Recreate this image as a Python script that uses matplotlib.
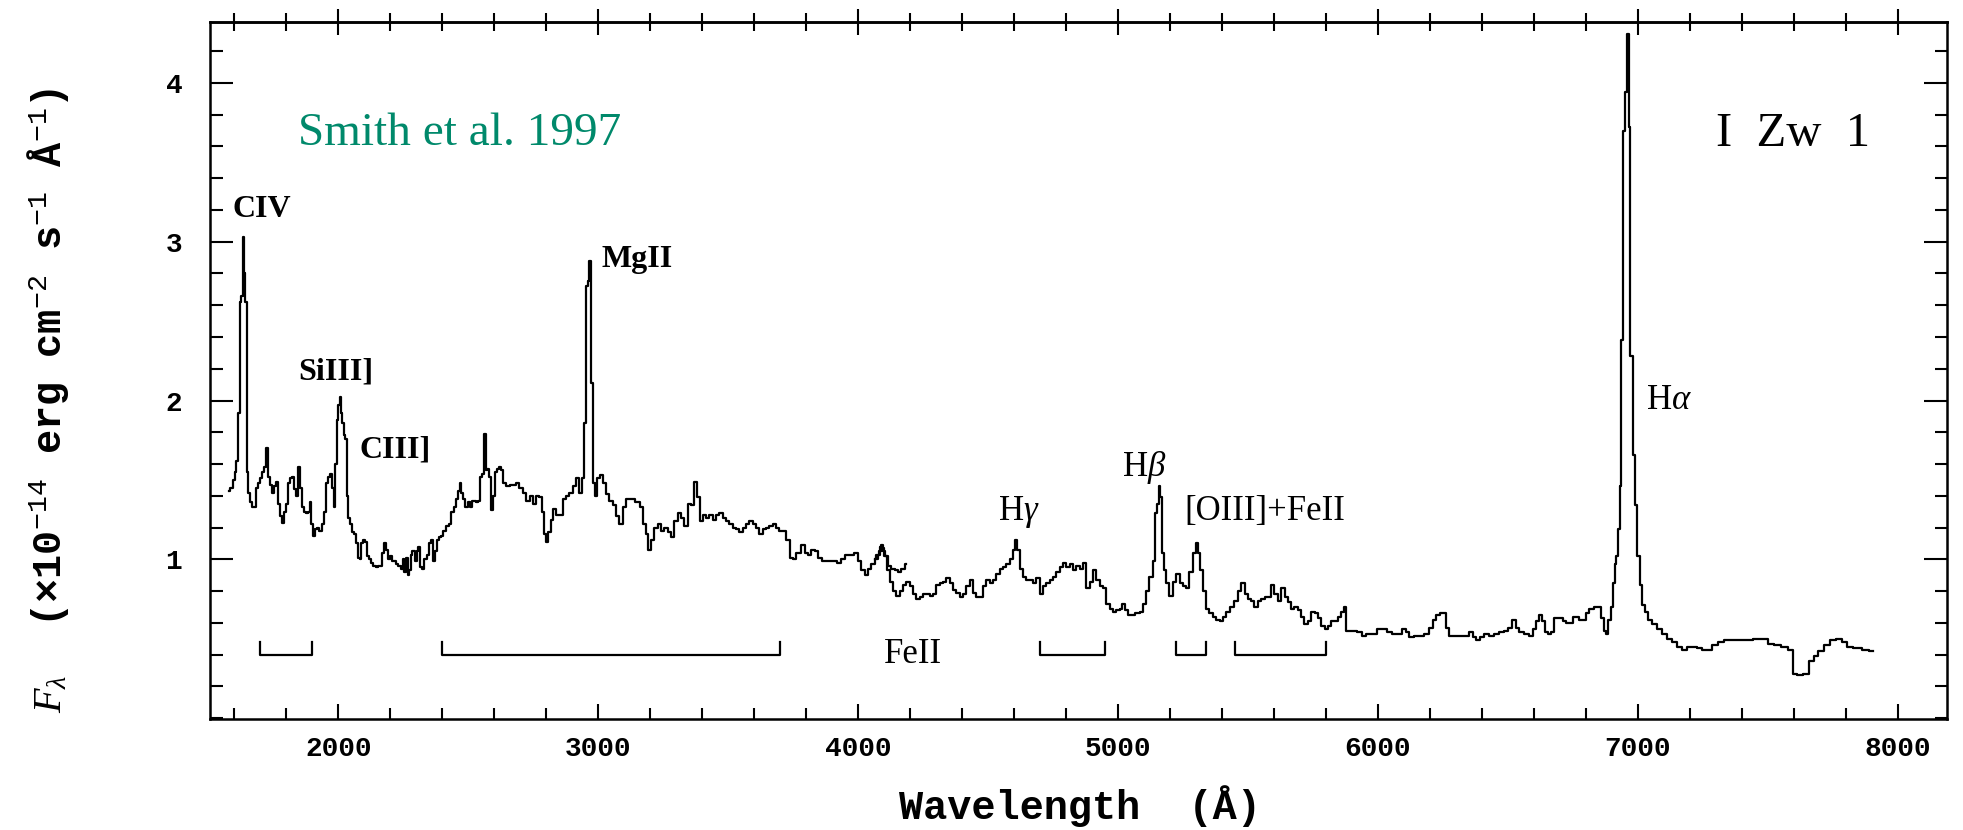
import matplotlib
matplotlib.use("Agg")
import matplotlib.pyplot as plt
from matplotlib.ticker import MultipleLocator, NullFormatter

plt.rcParams['mathtext.fontset'] = 'custom'
plt.rcParams['mathtext.rm'] = 'Liberation Mono'
plt.rcParams['mathtext.it'] = 'Liberation Serif:italic'
plt.rcParams['mathtext.bf'] = 'Liberation Serif:bold'

# ---- blue-side spectrum (wavelength in Angstrom, flux in 1e-14 erg/cm2/s/A)
blue_wave = [1580, 1590, 1598, 1605, 1612, 1618, 1624, 1630, 1635, 1640, 1645, 1651, 1658, 1665, 1672, 1680,
             1688, 1696, 1704, 1712, 1720, 1726, 1732, 1740, 1748, 1756, 1764, 1772, 1779, 1786, 1794, 1802,
             1810, 1818, 1826, 1834, 1842, 1850, 1856, 1863, 1871, 1879, 1887, 1894, 1901, 1908, 1916, 1924,
             1932, 1940, 1948, 1956, 1964, 1972, 1980, 1986, 1992, 1998, 2004, 2008, 2013, 2018, 2024, 2030,
             2036, 2042, 2050, 2058, 2066, 2073, 2079, 2086, 2093, 2100, 2108, 2116, 2124, 2132, 2140, 2148,
             2156, 2164, 2172, 2180, 2188, 2196, 2204, 2212, 2220, 2228, 2236, 2244, 2252, 2258, 2264, 2270,
             2276, 2282, 2290, 2298, 2305, 2312, 2320, 2328, 2336, 2344, 2352, 2360, 2368, 2376, 2384, 2392,
             2400, 2410, 2420, 2430, 2440, 2448, 2456, 2464, 2470, 2478, 2486, 2494, 2502, 2510, 2518, 2526,
             2534, 2542, 2550, 2558, 2564, 2570, 2578, 2586, 2592, 2598, 2606, 2614, 2622, 2630, 2640, 2653,
             2666, 2678, 2691, 2704, 2717, 2730, 2743, 2755, 2768, 2781, 2790, 2797, 2804, 2813, 2822, 2832,
             2845, 2858, 2871, 2884, 2896, 2909, 2922, 2932, 2941, 2950, 2957, 2963, 2969, 2976, 2984, 2993,
             3002, 3012, 3025, 3037, 3050, 3063, 3076, 3089, 3102, 3114, 3134, 3153, 3166, 3178, 3189, 3198,
             3210, 3223, 3236, 3249, 3262, 3275, 3287, 3300, 3313, 3326, 3339, 3352, 3364, 3377, 3386, 3396,
             3409, 3422, 3435, 3448, 3460, 3473, 3486, 3499, 3512, 3525, 3537, 3550, 3563, 3576, 3589, 3602,
             3614, 3627, 3640, 3653, 3666, 3678, 3691, 3704, 3718, 3731, 3744, 3757, 3769, 3789, 3801, 3814,
             3827, 3840, 3853, 3872, 3891, 3910, 3930, 3942, 3955, 3974, 3994, 4007, 4019, 4032, 4045, 4058,
             4071, 4080, 4087, 4092, 4100, 4109, 4122, 4135, 4148, 4160, 4173, 4186]
blue_flux = [1.43, 1.45, 1.50, 1.55, 1.62, 1.92, 2.62, 2.66, 3.03, 2.80, 2.62, 1.55, 1.42, 1.36, 1.33, 1.33,
             1.45, 1.48, 1.51, 1.55, 1.58, 1.70, 1.52, 1.47, 1.42, 1.46, 1.49, 1.35, 1.27, 1.23, 1.30, 1.35,
             1.48, 1.51, 1.52, 1.44, 1.40, 1.58, 1.45, 1.33, 1.30, 1.29, 1.30, 1.36, 1.22, 1.15, 1.19, 1.20,
             1.18, 1.22, 1.30, 1.48, 1.52, 1.54, 1.45, 1.33, 1.60, 1.88, 1.97, 2.02, 1.92, 1.86, 1.78, 1.76,
             1.40, 1.26, 1.22, 1.17, 1.16, 1.10, 1.01, 1.00, 1.10, 1.12, 1.11, 1.02, 1.00, 0.98, 0.96, 0.95,
             0.96, 0.96, 1.04, 1.10, 1.06, 1.00, 1.02, 0.99, 0.99, 0.97, 0.96, 0.94, 1.00, 0.92, 1.01, 0.90,
             0.93, 1.03, 1.05, 0.99, 1.05, 1.08, 0.95, 0.94, 1.00, 1.03, 1.10, 1.12, 0.99, 1.05, 1.12, 1.14,
             1.15, 1.18, 1.21, 1.22, 1.30, 1.33, 1.38, 1.43, 1.48, 1.42, 1.38, 1.33, 1.36, 1.33, 1.37, 1.37,
             1.36, 1.37, 1.52, 1.54, 1.79, 1.56, 1.57, 1.52, 1.31, 1.40, 1.55, 1.57, 1.58, 1.56, 1.48, 1.46,
             1.47, 1.47, 1.48, 1.45, 1.42, 1.37, 1.40, 1.35, 1.40, 1.39, 1.30, 1.16, 1.11, 1.17, 1.25, 1.32,
             1.28, 1.28, 1.38, 1.40, 1.42, 1.46, 1.51, 1.42, 1.51, 1.86, 2.72, 2.75, 2.88, 2.11, 1.48, 1.40,
             1.51, 1.53, 1.48, 1.41, 1.37, 1.34, 1.27, 1.22, 1.33, 1.38, 1.38, 1.36, 1.33, 1.22, 1.16, 1.06,
             1.12, 1.20, 1.22, 1.18, 1.20, 1.17, 1.14, 1.24, 1.29, 1.26, 1.21, 1.35, 1.34, 1.49, 1.39, 1.24,
             1.28, 1.26, 1.28, 1.25, 1.28, 1.29, 1.26, 1.24, 1.22, 1.20, 1.19, 1.17, 1.20, 1.22, 1.24, 1.22,
             1.20, 1.16, 1.19, 1.20, 1.21, 1.22, 1.20, 1.18, 1.18, 1.12, 1.01, 1.00, 1.04, 1.09, 1.04, 1.03,
             1.06, 1.05, 1.01, 0.99, 0.99, 0.99, 0.98, 1.00, 1.03, 1.03, 1.04, 0.99, 0.93, 0.90, 0.94, 0.97,
             1.00, 1.03, 1.08, 1.09, 1.05, 1.02, 0.96, 0.94, 0.93, 0.92, 0.94, 0.97]

# ---- red-side spectrum
red_wave = [4064, 4077, 4087, 4096, 4105, 4116, 4128, 4141, 4154, 4167, 4180, 4192, 4205, 4218, 4231, 4244,
            4257, 4269, 4282, 4295, 4308, 4321, 4333, 4346, 4359, 4372, 4385, 4398, 4410, 4423, 4436, 4449,
            4462, 4475, 4487, 4500, 4513, 4526, 4539, 4551, 4564, 4577, 4590, 4600, 4609, 4618, 4628, 4641,
            4654, 4667, 4680, 4692, 4705, 4718, 4731, 4744, 4757, 4769, 4782, 4795, 4808, 4821, 4833, 4846,
            4859, 4872, 4885, 4898, 4910, 4923, 4936, 4949, 4962, 4974, 4987, 5000, 5013, 5022, 5032, 5045,
            5058, 5077, 5090, 5103, 5115, 5128, 5141, 5148, 5154, 5160, 5167, 5173, 5180, 5192, 5205, 5218,
            5231, 5244, 5257, 5269, 5282, 5295, 5305, 5314, 5321, 5333, 5346, 5359, 5372, 5385, 5398, 5410,
            5423, 5436, 5455, 5468, 5481, 5494, 5507, 5519, 5532, 5545, 5558, 5571, 5583, 5596, 5609, 5622,
            5635, 5648, 5660, 5673, 5686, 5699, 5712, 5724, 5737, 5750, 5763, 5776, 5789, 5801, 5814, 5827,
            5840, 5853, 5865, 5872, 5885, 5898, 5910, 5930, 5949, 5962, 5987, 6007, 6026, 6045, 6064, 6084,
            6100, 6116, 6128, 6148, 6167, 6186, 6205, 6218, 6231, 6244, 6257, 6269, 6280, 6295, 6321, 6346,
            6359, 6372, 6385, 6398, 6417, 6436, 6455, 6474, 6494, 6507, 6526, 6539, 6551, 6571, 6590, 6603,
            6616, 6628, 6639, 6648, 6660, 6673, 6686, 6705, 6718, 6731, 6744, 6757, 6769, 6782, 6795, 6808,
            6821, 6840, 6853, 6866, 6875, 6882, 6891, 6900, 6908, 6915, 6921, 6927, 6933, 6940, 6948, 6955,
            6963, 6969, 6975, 6985, 6994, 7003, 7013, 7023, 7032, 7045, 7064, 7083, 7103, 7122, 7141, 7160,
            7180, 7199, 7218, 7237, 7257, 7276, 7295, 7321, 7346, 7385, 7423, 7462, 7487, 7513, 7539, 7564,
            7590, 7603, 7622, 7648, 7667, 7686, 7705, 7731, 7750, 7776, 7795, 7814, 7846, 7878, 7904]
red_flux = [1.00, 1.03, 1.05, 1.07, 1.02, 0.93, 0.86, 0.80, 0.77, 0.80, 0.84, 0.86, 0.83, 0.78, 0.75, 0.76,
            0.78, 0.78, 0.77, 0.78, 0.84, 0.85, 0.86, 0.88, 0.85, 0.81, 0.79, 0.76, 0.78, 0.83, 0.87, 0.79,
            0.76, 0.76, 0.83, 0.87, 0.85, 0.87, 0.91, 0.94, 0.95, 0.97, 1.00, 1.06, 1.12, 1.06, 0.94, 0.89,
            0.87, 0.87, 0.85, 0.88, 0.78, 0.83, 0.85, 0.87, 0.89, 0.92, 0.95, 0.98, 0.95, 0.97, 0.93, 0.96,
            0.94, 0.98, 0.82, 0.86, 0.93, 0.87, 0.83, 0.82, 0.72, 0.69, 0.67, 0.68, 0.69, 0.72, 0.68, 0.65,
            0.65, 0.66, 0.67, 0.72, 0.80, 0.89, 0.99, 1.29, 1.35, 1.46, 1.39, 1.04, 0.93, 0.85, 0.77, 0.86,
            0.91, 0.85, 0.83, 0.82, 0.92, 1.04, 1.10, 1.04, 0.93, 0.80, 0.69, 0.66, 0.64, 0.62, 0.61, 0.64,
            0.67, 0.70, 0.74, 0.80, 0.85, 0.78, 0.75, 0.74, 0.70, 0.74, 0.75, 0.76, 0.76, 0.84, 0.78, 0.74,
            0.82, 0.76, 0.73, 0.69, 0.70, 0.68, 0.64, 0.59, 0.61, 0.67, 0.66, 0.63, 0.58, 0.56, 0.58, 0.61,
            0.61, 0.64, 0.67, 0.70, 0.55, 0.55, 0.55, 0.54, 0.52, 0.53, 0.53, 0.56, 0.56, 0.54, 0.53, 0.53,
            0.56, 0.54, 0.51, 0.52, 0.52, 0.53, 0.57, 0.62, 0.65, 0.66, 0.66, 0.57, 0.52, 0.52, 0.52, 0.52,
            0.54, 0.51, 0.49, 0.51, 0.53, 0.52, 0.53, 0.54, 0.55, 0.57, 0.62, 0.57, 0.54, 0.53, 0.52, 0.56,
            0.61, 0.65, 0.61, 0.54, 0.53, 0.54, 0.63, 0.63, 0.61, 0.60, 0.60, 0.64, 0.64, 0.62, 0.62, 0.66,
            0.69, 0.70, 0.70, 0.63, 0.55, 0.53, 0.62, 0.70, 0.85, 0.97, 1.02, 1.19, 1.46, 2.38, 3.70, 3.94,
            4.31, 3.72, 2.28, 1.66, 1.34, 1.02, 0.84, 0.71, 0.67, 0.62, 0.59, 0.56, 0.53, 0.50, 0.48, 0.45,
            0.43, 0.45, 0.45, 0.44, 0.43, 0.43, 0.46, 0.48, 0.49, 0.49, 0.49, 0.50, 0.50, 0.47, 0.46, 0.45,
            0.43, 0.28, 0.27, 0.28, 0.36, 0.39, 0.42, 0.46, 0.49, 0.50, 0.48, 0.45, 0.44, 0.43, 0.42]

# ---- FeII bracket ranges
feii_start = [1700, 2400, 4700, 5225, 5450]
feii_end = [1900, 3700, 4950, 5340, 5800]
feii_level = 0.40
feii_tick = 0.48

# ---- line labels
line_labels = ['CIV', 'SiIII]', 'CIII]', 'MgII', r'H$\gamma$', r'H$\beta$', '[OIII]+FeII', r'H$\alpha$']
label_wave = [1592, 1846, 2084, 3014, 4537, 5015, 5257, 7030]
label_flux = [3.20, 2.18, 1.69, 2.89, 1.30, 1.58, 1.30, 2.00]
label_bold = [True, True, True, True, False, False, False, False]
label_size = [23, 23, 23, 23, 25, 25, 25, 25]

fig = plt.figure(figsize=(19.63, 8.30), dpi=100)
ax = fig.add_axes([210/1963, 1-719/830, (1947-210)/1963, (719-21.7)/830])

ax.step(blue_wave, blue_flux, where='mid', color='black', lw=1.6)
ax.step(red_wave, red_flux, where='mid', color='black', lw=1.6)

for s, e in zip(feii_start, feii_end):
    ax.plot([s, s, e, e], [feii_tick, feii_level, feii_level, feii_tick], color='black', lw=1.6)
ax.text(4210, feii_level, 'FeII', family='Liberation Serif', fontsize=25, ha='center', va='center')

for t, x, y, b, fs in zip(line_labels, label_wave, label_flux, label_bold, label_size):
    ax.text(x, y, t, family='Liberation Serif', fontweight='bold' if b else 'normal',
            fontsize=fs, ha='left', va='center')

ax.text(7300, 3.68, 'I  Zw  1', family='Liberation Serif', fontsize=35, ha='left', va='center')
ax.text(1846, 3.68, 'Smith et al. 1997', family='Liberation Serif', fontsize=34,
        color='#00896B', ha='left', va='center')

ax.set_xlim(1507, 8190)
ax.set_ylim(-0.005, 4.385)

ax.xaxis.set_major_locator(MultipleLocator(1000))
ax.xaxis.set_minor_locator(MultipleLocator(200))
ax.set_yticks([1, 2, 3, 4])
ax.yaxis.set_minor_locator(MultipleLocator(0.2))

ax.tick_params(axis='x', which='major', direction='in', length=11, width=1.5, pad=12,
               bottom=True, top=False, labelsize=20)
ax.tick_params(axis='x', which='minor', direction='in', length=8, width=1.5, bottom=True, top=False)
ax.tick_params(axis='y', which='major', direction='in', length=16.5, width=1.5, pad=20,
               left=True, right=True, labelsize=20)
ax.tick_params(axis='y', which='minor', direction='in', length=9, width=1.5, left=True, right=True)

for lab in ax.get_xticklabels() + ax.get_yticklabels():
    lab.set_family('Liberation Mono')
    lab.set_fontweight('bold')

sec = ax.secondary_xaxis('top')
sec.xaxis.set_major_locator(MultipleLocator(1000))
sec.xaxis.set_minor_locator(MultipleLocator(200))
sec.xaxis.set_major_formatter(NullFormatter())
sec.tick_params(axis='x', which='major', direction='inout', length=19, width=1.5)
sec.tick_params(axis='x', which='minor', direction='inout', length=13, width=1.5)
sec.spines['top'].set_linewidth(1.8)

for sp in ax.spines.values():
    sp.set_linewidth(1.8)

fig.text(1080/1963, 1-806/830, 'Wavelength  (Å)', family='Liberation Mono', fontweight='bold',
         fontsize=29, ha='center', va='center')
fig.text(48/1963, 1-400/830, r'$F_\lambda$  (×10$^{-14}$ erg cm$^{-2}$ s$^{-1}$ Å$^{-1}$)',
         family='Liberation Mono', fontweight='bold', fontsize=29, rotation=90,
         ha='center', va='center')

fig.savefig('out.png', dpi=100, facecolor='white')
